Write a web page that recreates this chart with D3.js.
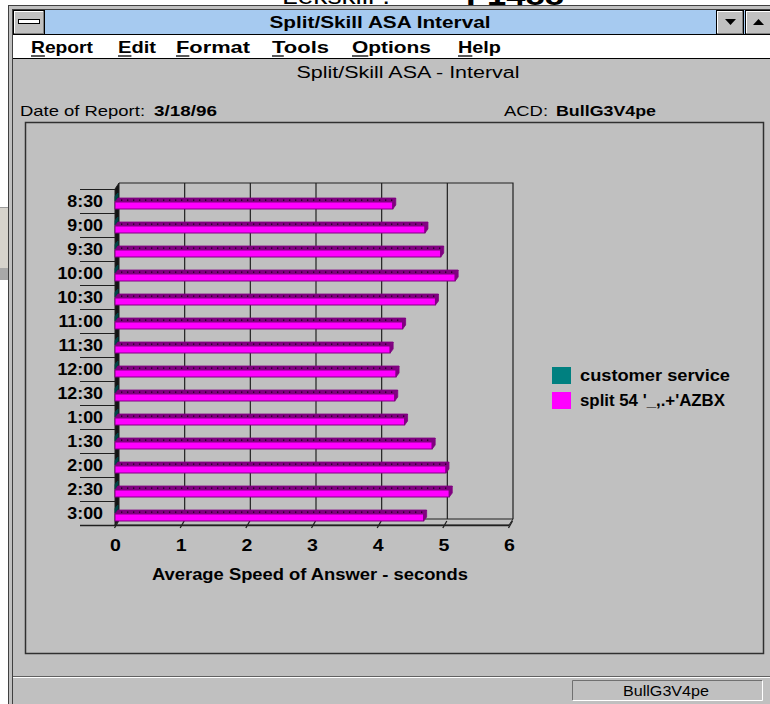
<!DOCTYPE html>
<html>
<head>
<meta charset="utf-8">
<script src="https://cdn.jsdelivr.net/npm/d3@7"></script>
<style>
  html, body { margin: 0; padding: 0; background: #ffffff; }
  svg { display: block; }
</style>
</head>
<body>
<svg id="screen" width="770" height="704"></svg>
<script>
// ---- data ----
const intervals = ["8:30","9:00","9:30","10:00","10:30","11:00","11:30","12:00","12:30","1:00","1:30","2:00","2:30","3:00"];
const customerService = [0,0,0,0,0,0,0,0,0,0,0,0,0,0];
const split54 = [4.23,4.72,4.96,5.18,4.88,4.38,4.19,4.28,4.26,4.41,4.83,5.04,5.09,4.70];
const xTicks = [0,1,2,3,4,5,6];
const seriesNames = ["customer service", "split 54 '_,.+'AZBX"];
const menuItems = ["Report","Edit","Format","Tools","Options","Help"];
const menuX = [31, 118, 176, 272, 352, 458];
const menuW = [62, 38, 74, 57, 79, 43];
const legendW = [150, 145];

const svg = d3.select("#screen");
const W = 770, H = 704;
const GREY = "#c0c0c0", DARK = "#202020";
const SYS = "'Liberation Sans', Arial, sans-serif";

// fixed-width text (the old screen fonts run wide)
function fit(sel, len) {
  return sel.attr("textLength", len).attr("lengthAdjust", "spacingAndGlyphs");
}
function stretch(sel, k) {
  sel.each(function () {
    const w = this.getComputedTextLength();
    d3.select(this).attr("textLength", w * k).attr("lengthAdjust", "spacingAndGlyphs");
  });
  return sel;
}
function label(x, y, str, size, bold, anchor) {
  return svg.append("text").attr("x", x).attr("y", y).attr("font-family", SYS)
    .attr("font-size", size).attr("font-weight", bold ? "bold" : "normal")
    .attr("text-anchor", anchor || "start").attr("fill", "#000").text(str);
}

// ---- desktop behind the window ----
svg.append("rect").attr("width", W).attr("height", H).attr("fill", "#ffffff");
fit(label(282, 4, "Lekskill :", 24, false), 108);
fit(label(466, 5, "F1488", 30, true), 98);
// edge of another window peeking out on the left
svg.append("rect").attr("x", 0).attr("y", 207).attr("width", 9).attr("height", 73).attr("fill", "#d6d3cc");
svg.append("line").attr("x1", 0).attr("x2", 9).attr("y1", 207.5).attr("y2", 207.5).attr("stroke", "#9a9a9a");
svg.append("rect").attr("x", 0).attr("y", 268).attr("width", 9).attr("height", 12).attr("fill", "#a8a8a8");

// ---- window frame ----
svg.append("rect").attr("x", 8.5).attr("y", 5.5).attr("width", 770).attr("height", 710)
  .attr("fill", GREY).attr("stroke", "#404040");
svg.append("rect").attr("x", 12.5).attr("y", 9.5).attr("width", 770).attr("height", 710)
  .attr("fill", GREY).attr("stroke", "#404040");

// title bar
svg.append("rect").attr("x", 13).attr("y", 10).attr("width", W - 13).attr("height", 24).attr("fill", "#a6caf0");
svg.append("line").attr("x1", 13).attr("x2", W).attr("y1", 34.5).attr("y2", 34.5).attr("stroke", "#000");
fit(label(380, 28, "Split/Skill ASA Interval", 16, true, "middle"), 221);

// beveled buttons of the title bar
function bevelButton(x, y, w, h) {
  svg.append("rect").attr("x", x).attr("y", y).attr("width", w).attr("height", h).attr("fill", GREY);
  svg.append("path").attr("d", `M${x + 1},${y + h - 1}V${y + 1}H${x + w - 1}`).attr("fill", "none").attr("stroke", "#ffffff").attr("stroke-width", 2);
  svg.append("path").attr("d", `M${x + 1},${y + h - 1}H${x + w - 1}V${y + 1}`).attr("fill", "none").attr("stroke", "#808080").attr("stroke-width", 2);
  svg.append("rect").attr("x", x + 0.5).attr("y", y + 0.5).attr("width", w - 1).attr("height", h - 1).attr("fill", "none").attr("stroke", "#000");
}
bevelButton(13, 10, 32, 25);
svg.append("rect").attr("x", 18.5).attr("y", 19.5).attr("width", 21).attr("height", 4).attr("fill", "#fff").attr("stroke", "#000");
bevelButton(716, 10, 28, 25);
bevelButton(745, 10, 28, 25);
svg.append("path").attr("d", "M725,19h11l-5.5,6z").attr("fill", "#000");
svg.append("path").attr("d", "M753,25h11l-5.5,-6z").attr("fill", "#000");

// menu bar
svg.append("rect").attr("x", 13).attr("y", 35).attr("width", W - 13).attr("height", 23).attr("fill", "#ffffff");
svg.append("line").attr("x1", 13).attr("x2", W).attr("y1", 58.5).attr("y2", 58.5).attr("stroke", "#000");
menuItems.forEach((m, i) => {
  const t = label(menuX[i], 53, m, 17, true);
  const natural = t.node().getComputedTextLength();
  const firstW = t.node().getSubStringLength(0, 1) * menuW[i] / natural;
  fit(t, menuW[i]);
  svg.append("line").attr("x1", menuX[i]).attr("x2", menuX[i] + firstW)
    .attr("y1", 56).attr("y2", 56).attr("stroke", "#000").attr("stroke-width", 1.3);
});

// ---- report header ----
fit(label(408, 78, "Split/Skill ASA - Interval", 16, false, "middle"), 223);
fit(label(20, 116, "Date of Report:", 15, false), 125);
fit(label(154, 116, "3/18/96", 15, true), 63);
fit(label(504, 116, "ACD:", 15, false), 44);
fit(label(556, 116, "BullG3V4pe", 15, true), 100);

// chart frame
svg.append("rect").attr("x", 25.5).attr("y", 122.5).attr("width", 738).attr("height", 531)
  .attr("fill", "none").attr("stroke", "#303030").attr("stroke-width", 1.5);

// ---- 3D horizontal bar chart ----
const x = d3.scaleLinear().domain([0, 6]).range([115, 509]);
const y = d3.scaleBand().domain(intervals).range([189, 525]).padding(0);
const wdx = 4, wdy = -6;      // depth of the chart walls
const bdx = 3, bdy = -4;      // depth of each bar
const x0 = x(0), x6 = x(6), yTop = y.range()[0], yBot = y.range()[1];
const g = svg.append("g");

// back wall outline and vertical grid
g.append("path")
  .attr("d", `M${x0 + wdx},${yTop + wdy}H${x6 + wdx}V${yBot + wdy}`)
  .attr("fill", "none").attr("stroke", DARK).attr("stroke-width", 1.2);
g.selectAll("line.grid").data(xTicks.slice(1, -1)).join("line").attr("class", "grid")
  .attr("x1", d => x(d) + wdx).attr("x2", d => x(d) + wdx)
  .attr("y1", yTop + wdy).attr("y2", yBot + wdy)
  .attr("stroke", DARK).attr("stroke-width", 1.2);

// floor
g.append("path")
  .attr("d", `M${x0},${yBot}L${x0 + wdx},${yBot + wdy}H${x6 + wdx}L${x6},${yBot}Z`)
  .attr("fill", GREY).attr("stroke", DARK).attr("stroke-width", 1);

// category separators on the left
g.selectAll("line.sep").data(intervals.map(d => y(d)).concat([yBot])).join("line").attr("class", "sep")
  .attr("x1", 80).attr("x2", x0).attr("y1", d => d + 0.5).attr("y2", d => d + 0.5)
  .attr("stroke", DARK).attr("stroke-width", 1.2);

// left wall
g.append("path")
  .attr("d", `M${x0},${yTop}L${x0 + wdx},${yTop + wdy}V${yBot + wdy}L${x0},${yBot}Z`)
  .attr("fill", "#141414").attr("stroke", DARK).attr("stroke-width", 1);

// axis line at the front
g.append("line").attr("x1", 80).attr("x2", x6).attr("y1", yBot + 0.5).attr("y2", yBot + 0.5)
  .attr("stroke", DARK).attr("stroke-width", 1.4);

// x axis through d3.axisBottom, then slanted tick marks
const xAxis = d3.axisBottom(x).tickValues(xTicks).tickSize(0).tickPadding(14).tickFormat(d3.format("d"));
const ax = g.append("g").attr("transform", `translate(0,${yBot})`).call(xAxis);
ax.select(".domain").remove();
stretch(ax.selectAll("text").attr("font-family", SYS).attr("font-size", 17).attr("font-weight", "bold").attr("fill", "#000"), 1.15);
ax.selectAll(".tick").append("line")
  .attr("x1", -1).attr("y1", 3).attr("x2", 3).attr("y2", -4)
  .attr("stroke", DARK).attr("stroke-width", 1.3);

// y labels
stretch(g.selectAll("text.cat").data(intervals).join("text").attr("class", "cat")
  .attr("x", 103).attr("y", d => y(d) + 18).attr("text-anchor", "end")
  .attr("font-family", SYS).attr("font-size", 16.5).attr("font-weight", "bold").text(d => d), 1.08);

// draws one 3D bar: top face, front face and end face
function bar3d(parent, v, top, h, front, dark) {
  const xv = x(v);
  parent.append("path")
    .attr("d", `M${x0},${top}H${xv}l${bdx},${bdy}H${x0 + bdx}Z`)
    .attr("fill", dark).attr("stroke", dark).attr("stroke-width", 0.8);
  parent.append("rect").attr("x", x0).attr("y", top).attr("width", Math.max(0, xv - x0)).attr("height", h)
    .attr("fill", front).attr("stroke", dark).attr("stroke-width", 1);
  parent.append("path")
    .attr("d", `M${xv},${top}l${bdx},${bdy}v${h}l${-bdx},${-bdy}Z`)
    .attr("fill", dark).attr("stroke", dark).attr("stroke-width", 0.8);
  return xv;
}

intervals.forEach((c, i) => {
  const b = y(c);
  const bg = g.append("g");
  // customer service series (zero-valued)
  bar3d(bg, customerService[i], b + 8, 4, "#008080", "#004848");
  // split 54 series
  const xv = bar3d(bg, split54[i], b + 13, 7, "#ff00ff", "#800080");
  // dotted texture on the top face
  const dots = d3.range(x0 + 6, xv, 6);
  bg.selectAll("rect.dot").data(dots).join("rect").attr("class", "dot")
    .attr("x", d => d).attr("y", b + 10.5).attr("width", 1.3).attr("height", 1.3).attr("fill", "#1a001a");
});

// axis title
fit(label(310, 580, "Average Speed of Answer - seconds", 16.5, true, "middle"), 316);

// legend
const legendColors = ["#008080", "#ff00ff"];
seriesNames.forEach((s, i) => {
  svg.append("rect").attr("x", 552).attr("y", 367 + i * 25).attr("width", 19).attr("height", 17)
    .attr("fill", legendColors[i]);
  fit(label(580, 381 + i * 25, s, 16, true), legendW[i]);
});

// ---- status bar ----
svg.append("line").attr("x1", 13).attr("x2", W).attr("y1", 677.5).attr("y2", 677.5).attr("stroke", "#ffffff");
svg.append("line").attr("x1", 13).attr("x2", W).attr("y1", 676.5).attr("y2", 676.5).attr("stroke", "#606060");
svg.append("path").attr("d", "M572.5,700.5V680.5H762.5").attr("fill", "none").attr("stroke", "#707070");
svg.append("path").attr("d", "M572.5,700.5H762.5V680.5").attr("fill", "none").attr("stroke", "#ffffff");
fit(label(666, 696, "BullG3V4pe", 15, false, "middle"), 86);
</script>
</body>
</html>
